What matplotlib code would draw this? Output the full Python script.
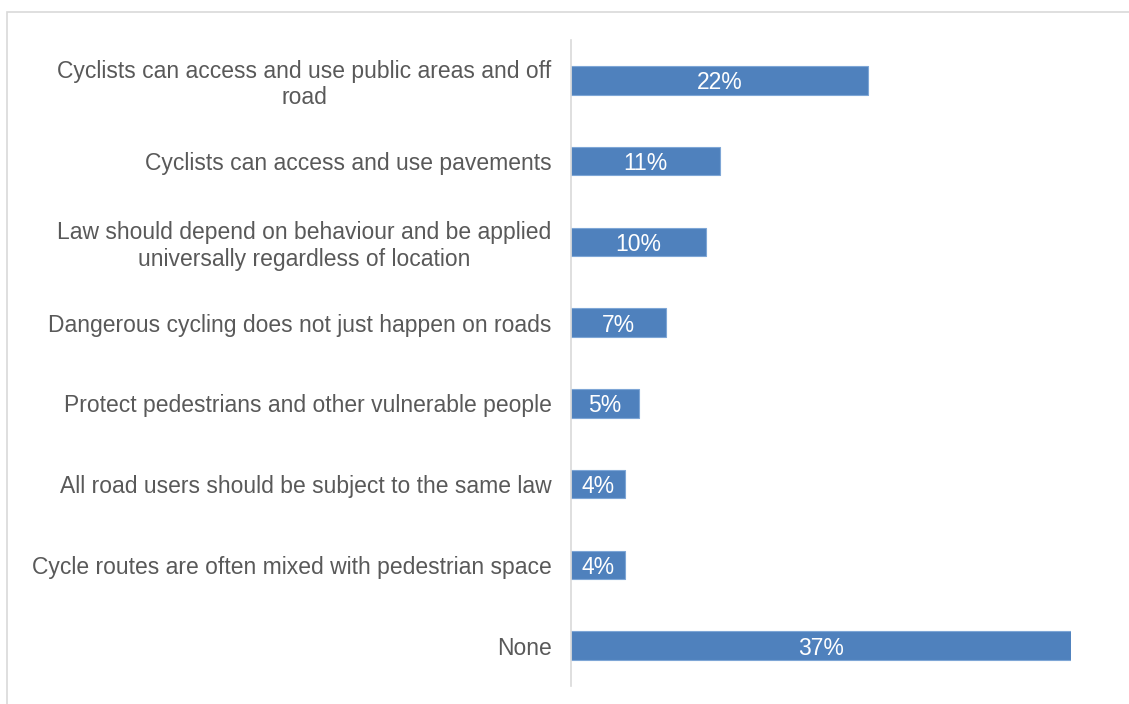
import matplotlib
matplotlib.use("Agg")

import matplotlib.pyplot as plt
from matplotlib.patches import Rectangle


# reasons given, top to bottom
reasons = [
    "Cyclists can access and use public areas and off\nroad",
    "Cyclists can access and use pavements",
    "Law should depend on behaviour and be applied\nuniversally regardless of location",
    "Dangerous cycling does not just happen on roads",
    "Protect pedestrians and other vulnerable people",
    "All road users should be subject to the same law",
    "Cycle routes are often mixed with pedestrian space",
    "None",
]
shares = [22, 11, 10, 7, 5, 4, 4, 37]

BAR_COLOR = "#4f81bd"
TEXT_COLOR = "#595959"

plt.rcParams["font.family"] = ["Liberation Sans", "DejaVu Sans"]

fig = plt.figure(figsize=(11.29, 7.04), dpi=100)

# light outer frame of the chart area
fig.patches.append(Rectangle((7 / 1129, -0.1), 1.2, 1 - 12 / 704 + 0.1,
                             transform=fig.transFigure, fill=False,
                             edgecolor="#d9d9d9", linewidth=1.2))

ax = fig.add_axes([571 / 1129, 1 - 686 / 704, (1071 - 571) / 1129, (686 - 40) / 704])

y = list(range(len(reasons)))
bars = ax.barh(y, shares, height=0.35, color=BAR_COLOR,
               edgecolor="#7ea6d6", linewidth=0.8)

for b, v in zip(bars, shares):
    ax.text(b.get_x() + b.get_width() / 2, b.get_y() + b.get_height() / 2,
            f"{v}%", ha="center", va="center_baseline", color="white",
            fontsize=16.5)

ax.set_xlim(0, 37)
ax.set_ylim(len(reasons) - 0.5, -0.5)
ax.set_yticks(y)
ax.set_yticklabels(reasons, fontsize=16.5, color=TEXT_COLOR, ha="right",
                   multialignment="center")
ax.tick_params(axis="y", length=0, pad=14)
ax.set_xticks([])

for side in ["top", "right", "bottom"]:
    ax.spines[side].set_visible(False)
ax.spines["left"].set_color("#d9d9d9")
ax.spines["left"].set_linewidth(1.2)

plt.savefig("out.png", dpi=100)
plt.close()
